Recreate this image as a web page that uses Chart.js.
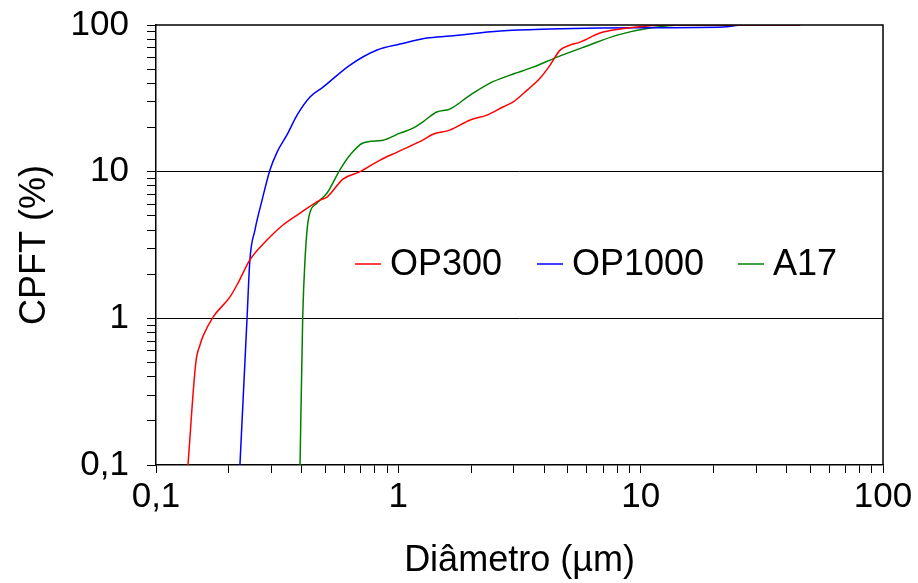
<!DOCTYPE html>
<html>
<head>
<meta charset="utf-8">
<script src="https://cdn.jsdelivr.net/npm/chart.js@4/dist/chart.umd.min.js"></script>
<style>
  body { margin: 0; background: #fff; }
  #wrap { width: 918px; height: 583px; }
</style>
</head>
<body>
<div id="wrap"><canvas id="psd" width="918" height="583"></canvas></div>
<script>
// series labels
var seriesNames = ['OP300', 'OP1000', 'A17'];

// OP300 - diametro (um) / CPFT (%)
var op300X = [0.1355, 0.146, 0.152, 0.156, 0.172, 0.202, 0.218, 0.244, 0.287, 0.334, 0.393, 0.475, 0.508, 0.591, 0.695, 0.841, 0.99, 1.26, 1.39, 1.63, 1.98, 2.32, 2.70, 2.97, 3.40, 3.85, 4.23, 4.65, 5.11, 5.62, 6.80, 8.22, 10.6, 12.8, 45.5];
var op300Y = [0.1, 0.50, 0.66, 0.75, 1.02, 1.40, 1.74, 2.5, 3.42, 4.33, 5.22, 6.40, 6.71, 8.9, 10.0, 12.0, 13.6, 16.4, 18.0, 19.2, 22.5, 24.3, 27.6, 29.8, 36.0, 43.5, 53.3, 67.4, 72.9, 76.4, 88.1, 93.8, 98.4, 100, 100];

// OP1000
var op1000X = [0.222, 0.2375, 0.244, 0.256, 0.274, 0.2955, 0.316, 0.347, 0.382, 0.432, 0.489, 0.632, 0.817, 1.016, 1.31, 1.63, 2.63, 4.23, 6.80, 10.9, 21.9, 26.5, 45.5];
var op1000Y = [0.1, 1.0, 2.5, 4.0, 6.4, 10.3, 13.6, 17.8, 24.3, 32.3, 37.7, 53.3, 67.5, 74.1, 81.4, 84.0, 90.9, 93.8, 95.3, 95.7, 96.8, 100, 100];

// A17
var a17X = [0.393, 0.403, 0.412, 0.425, 0.462, 0.508, 0.574, 0.632, 0.715, 0.865, 1.016, 1.15, 1.26, 1.44, 1.63, 1.98, 2.39, 2.89, 3.60, 4.52, 6.01, 8.0, 10.9, 15.0, 45.5];
var a17Y = [0.1, 1.0, 2.5, 4.68, 6.11, 7.15, 10.3, 13.0, 15.7, 16.4, 18.3, 19.8, 21.8, 25.5, 26.7, 33.3, 40.2, 45.5, 51.6, 60.4, 72.0, 85.3, 95.3, 100, 100];

// tick labels (decadas)
var decades = [0.1, 1, 10, 100];
var decadeLabels = ['0,1', '1', '10', '100'];
var gridAt = [1, 10];

function toPoints(xs, ys) {
    return xs.map((x, i) => ({ x: x, y: ys[i] }));
}

// all ticks: decades + 2..9 in between
function logTicks() {
    var t = [];
    for (var d = 0; d < decades.length; d++) {
        t.push({ value: decades[d], major: true });
        if (d < decades.length - 1) {
            for (var k = 2; k <= 9; k++) {
                t.push({ value: +(decades[d] * k).toPrecision(3), major: false });
            }
        }
    }
    return t;
}

function tickLabel(value) {
    var i = decades.findIndex(d => Math.abs(d - value) < 1e-9);
    return i >= 0 ? decadeLabels[i] : '';
}

var FONT = "'Liberation Sans', Arial, sans-serif";

// moldura superior/direita + legenda dentro do grafico
var framePlugin = {
    id: 'frame',
    afterDraw: function (chart) {
        var ctx = chart.ctx, a = chart.chartArea;
        ctx.save();
        ctx.strokeStyle = '#000';
        ctx.lineWidth = 1.5;
        ctx.beginPath();
        ctx.moveTo(a.left, a.top);
        ctx.lineTo(a.right, a.top);
        ctx.lineTo(a.right, a.bottom);
        ctx.stroke();

        var starts = [355, 537, 738];
        var ly = 264;
        ctx.font = '36px ' + FONT;
        ctx.textBaseline = 'middle';
        ctx.textAlign = 'left';
        chart.data.datasets.forEach(function (ds, i) {
            ctx.strokeStyle = ds.borderColor;
            ctx.lineWidth = 1.5;
            ctx.beginPath();
            ctx.moveTo(starts[i], ly);
            ctx.lineTo(starts[i] + 26, ly);
            ctx.stroke();
            ctx.fillStyle = '#000';
            ctx.fillText(ds.label, starts[i] + 35, ly + 1);
        });
        ctx.restore();
    }
};

var ctx = document.getElementById('psd').getContext('2d');
var chart = new Chart(ctx, {
    type: 'line',
    data: {
        datasets: [{
            label: seriesNames[0],
            data: toPoints(op300X, op300Y),
            borderColor: '#ff0000'
        }, {
            label: seriesNames[1],
            data: toPoints(op1000X, op1000Y),
            borderColor: '#0000ff'
        }, {
            label: seriesNames[2],
            data: toPoints(a17X, a17Y),
            borderColor: '#008000'
        }]
    },
    options: {
        responsive: false,
        animation: false,
        devicePixelRatio: 1,
        layout: { padding: { top: 25, right: 35, left: 0, bottom: 0 } },
        elements: {
            line: { borderWidth: 1.5, cubicInterpolationMode: 'monotone', fill: false },
            point: { radius: 0 }
        },
        plugins: {
            legend: { display: false },
            tooltip: { enabled: false }
        },
        scales: {
            x: {
                type: 'logarithmic',
                min: 0.1,
                max: 100,
                afterBuildTicks: function (scale) { scale.ticks = logTicks(); },
                afterFit: function (scale) { scale.height = 118; },
                grid: {
                    drawOnChartArea: false,
                    drawTicks: true,
                    tickLength: 8,
                    tickColor: '#000',
                    tickWidth: 1
                },
                border: { display: true, color: '#000', width: 1.5 },
                ticks: {
                    autoSkip: false,
                    maxRotation: 0,
                    padding: 3,
                    color: '#000',
                    font: { family: FONT, size: 35 },
                    callback: function (value) { return tickLabel(value); }
                },
                title: {
                    display: true,
                    text: 'Diâmetro (µm)',
                    color: '#000',
                    font: { family: FONT, size: 36 },
                    padding: { top: 6, bottom: 0 }
                }
            },
            y: {
                type: 'logarithmic',
                min: 0.1,
                max: 100,
                afterBuildTicks: function (scale) { scale.ticks = logTicks(); },
                afterFit: function (scale) {
                    scale.width = 156;
                    scale.paddingTop = 20;
                    scale.paddingBottom = 20;
                },
                grid: {
                    drawOnChartArea: true,
                    drawTicks: true,
                    tickLength: 9,
                    tickColor: '#000',
                    lineWidth: 1,
                    color: function (c) {
                        return c.tick && gridAt.indexOf(c.tick.value) >= 0 ? '#000' : 'rgba(0,0,0,0)';
                    }
                },
                border: { display: true, color: '#000', width: 1.5 },
                ticks: {
                    autoSkip: false,
                    padding: 18,
                    color: '#000',
                    font: { family: FONT, size: 35 },
                    callback: function (value) { return tickLabel(value); }
                },
                title: {
                    display: true,
                    text: 'CPFT (%)',
                    color: '#000',
                    font: { family: FONT, size: 36 },
                    padding: { top: 13, bottom: 0 }
                }
            }
        }
    },
    plugins: [framePlugin]
});
</script>
</body>
</html>
